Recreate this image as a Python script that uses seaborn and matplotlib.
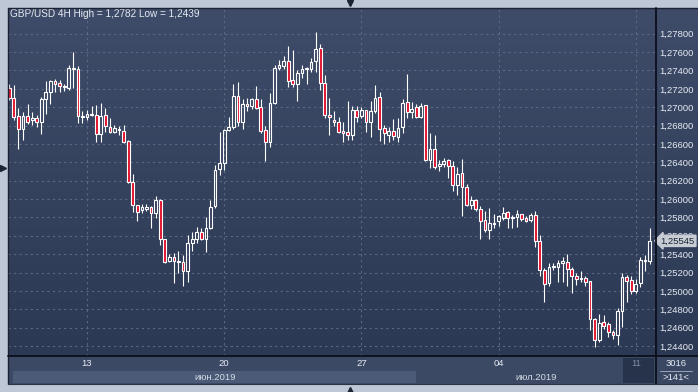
import numpy as np
import matplotlib
matplotlib.use("Agg")
import matplotlib.pyplot as plt
import seaborn as sns
from matplotlib.patches import Rectangle
from matplotlib.lines import Line2D
from matplotlib.colors import LinearSegmentedColormap

# ---------------- data (GBP/USD 4H candles) ----------------
opens = [1.2721, 1.2710, 1.2690, 1.2676, 1.2690, 1.2686, 1.2688, 1.2684, 1.2709, 1.2716,
         1.2728, 1.2726, 1.2723, 1.2721, 1.2743, 1.2742, 1.2689, 1.2689, 1.2693, 1.2692,
         1.2671, 1.2691, 1.2678, 1.2673, 1.2676, 1.2674, 1.2663, 1.2619, 1.2594, 1.2588,
         1.2589, 1.2591, 1.2585, 1.2599, 1.2556, 1.2532, 1.2537, 1.2531, 1.2531, 1.2522,
         1.2552, 1.2557, 1.2564, 1.2557, 1.2569, 1.2592, 1.2633, 1.2639, 1.2675, 1.2678,
         1.2712, 1.2684, 1.2703, 1.2701, 1.2709, 1.2700, 1.2675, 1.2662, 1.2705, 1.2743,
         1.2745, 1.2750, 1.2730, 1.2725, 1.2737, 1.2742, 1.2742, 1.2750, 1.2764, 1.2726,
         1.2692, 1.2686, 1.2684, 1.2674, 1.2673, 1.2670, 1.2697, 1.2690, 1.2697, 1.2684,
         1.2696, 1.2711, 1.2677, 1.2670, 1.2674, 1.2668, 1.2678, 1.2706, 1.2695, 1.2700,
         1.2689, 1.2702, 1.2643, 1.2655, 1.2636, 1.2638, 1.2642, 1.2636, 1.2615, 1.2628,
         1.2613, 1.2593, 1.2599, 1.2589, 1.2577, 1.2566, 1.2573, 1.2576, 1.2579, 1.2586,
         1.2579, 1.2580, 1.2584, 1.2579, 1.2577, 1.2583, 1.2554, 1.2523, 1.2509, 1.2526,
         1.2526, 1.2530, 1.2531, 1.2524, 1.2516, 1.2513, 1.2514, 1.2511, 1.2469, 1.2447,
         1.2466, 1.2464, 1.2455, 1.2452, 1.2478, 1.2515, 1.2512, 1.2500, 1.2509, 1.2533,
         1.2533]
highs = [1.2725, 1.2724, 1.2699, 1.2695, 1.2704, 1.2695, 1.2691, 1.2711, 1.2728, 1.2730,
         1.2731, 1.2730, 1.2725, 1.2746, 1.2760, 1.2745, 1.2696, 1.2697, 1.2701, 1.2702,
         1.2705, 1.2699, 1.2688, 1.2681, 1.2679, 1.2681, 1.2664, 1.2627, 1.2594, 1.2595,
         1.2595, 1.2592, 1.2603, 1.2600, 1.2557, 1.2540, 1.2541, 1.2543, 1.2539, 1.2561,
         1.2564, 1.2570, 1.2568, 1.2580, 1.2599, 1.2637, 1.2673, 1.2676, 1.2689, 1.2725,
         1.2727, 1.2709, 1.2710, 1.2710, 1.2723, 1.2709, 1.2680, 1.2715, 1.2746, 1.2751,
         1.2756, 1.2767, 1.2762, 1.2740, 1.2746, 1.2744, 1.2754, 1.2782, 1.2769, 1.2735,
         1.2710, 1.2696, 1.2689, 1.2684, 1.2707, 1.2701, 1.2701, 1.2700, 1.2697, 1.2707,
         1.2724, 1.2717, 1.2681, 1.2678, 1.2687, 1.2688, 1.2709, 1.2736, 1.2706, 1.2703,
         1.2705, 1.2702, 1.2672, 1.2670, 1.2643, 1.2645, 1.2644, 1.2641, 1.2635, 1.2644,
         1.2616, 1.2603, 1.2600, 1.2592, 1.2587, 1.2590, 1.2584, 1.2583, 1.2591, 1.2587,
         1.2583, 1.2588, 1.2584, 1.2581, 1.2585, 1.2587, 1.2561, 1.2525, 1.2530, 1.2530,
         1.2534, 1.2537, 1.2540, 1.2526, 1.2520, 1.2522, 1.2516, 1.2511, 1.2471, 1.2475,
         1.2474, 1.2466, 1.2457, 1.2481, 1.2519, 1.2517, 1.2516, 1.2513, 1.2537, 1.2539,
         1.2569]
lows = [1.2708, 1.2686, 1.2654, 1.2664, 1.2682, 1.2681, 1.2678, 1.2671, 1.2693, 1.2704,
        1.2716, 1.2717, 1.2718, 1.2719, 1.2721, 1.2683, 1.2683, 1.2686, 1.2690, 1.2662,
        1.2662, 1.2673, 1.2672, 1.2672, 1.2670, 1.2661, 1.2617, 1.2586, 1.2576, 1.2585,
        1.2587, 1.2569, 1.2579, 1.2550, 1.2530, 1.2531, 1.2509, 1.2520, 1.2505, 1.2510,
        1.2543, 1.2552, 1.2555, 1.2542, 1.2567, 1.2590, 1.2626, 1.2632, 1.2674, 1.2676,
        1.2679, 1.2676, 1.2696, 1.2698, 1.2698, 1.2672, 1.2641, 1.2657, 1.2704, 1.2740,
        1.2742, 1.2722, 1.2722, 1.2707, 1.2732, 1.2725, 1.2738, 1.2738, 1.2719, 1.2688,
        1.2670, 1.2679, 1.2672, 1.2662, 1.2664, 1.2664, 1.2684, 1.2688, 1.2673, 1.2668,
        1.2694, 1.2663, 1.2660, 1.2662, 1.2664, 1.2662, 1.2672, 1.2688, 1.2688, 1.2688,
        1.2688, 1.2641, 1.2634, 1.2633, 1.2630, 1.2635, 1.2623, 1.2609, 1.2604, 1.2582,
        1.2592, 1.2589, 1.2587, 1.2556, 1.2564, 1.2557, 1.2569, 1.2571, 1.2577, 1.2569,
        1.2569, 1.2570, 1.2576, 1.2575, 1.2575, 1.2548, 1.2516, 1.2488, 1.2505, 1.2523,
        1.2510, 1.2510, 1.2505, 1.2498, 1.2506, 1.2510, 1.2505, 1.2457, 1.2439, 1.2444,
        1.2458, 1.2450, 1.2448, 1.2441, 1.2461, 1.2488, 1.2497, 1.2498, 1.2504, 1.2522,
        1.2529]
closes = [1.2710, 1.2689, 1.2676, 1.2690, 1.2684, 1.2688, 1.2684, 1.2709, 1.2716, 1.2729,
          1.2725, 1.2723, 1.2722, 1.2743, 1.2742, 1.2690, 1.2690, 1.2693, 1.2691, 1.2671,
          1.2690, 1.2679, 1.2673, 1.2677, 1.2675, 1.2662, 1.2619, 1.2594, 1.2586, 1.2591,
          1.2591, 1.2585, 1.2599, 1.2556, 1.2531, 1.2537, 1.2532, 1.2532, 1.2522, 1.2552,
          1.2557, 1.2564, 1.2557, 1.2569, 1.2591, 1.2632, 1.2639, 1.2675, 1.2678, 1.2712,
          1.2684, 1.2703, 1.2701, 1.2709, 1.2699, 1.2674, 1.2662, 1.2705, 1.2743, 1.2746,
          1.2750, 1.2728, 1.2725, 1.2737, 1.2742, 1.2743, 1.2749, 1.2763, 1.2726, 1.2692,
          1.2689, 1.2684, 1.2673, 1.2672, 1.2670, 1.2697, 1.2689, 1.2697, 1.2684, 1.2696,
          1.2710, 1.2676, 1.2672, 1.2674, 1.2669, 1.2677, 1.2705, 1.2695, 1.2698, 1.2689,
          1.2701, 1.2643, 1.2654, 1.2635, 1.2638, 1.2641, 1.2636, 1.2615, 1.2627, 1.2613,
          1.2593, 1.2599, 1.2589, 1.2576, 1.2566, 1.2574, 1.2574, 1.2581, 1.2585, 1.2579,
          1.2580, 1.2584, 1.2578, 1.2576, 1.2583, 1.2554, 1.2523, 1.2508, 1.2526, 1.2527,
          1.2530, 1.2532, 1.2524, 1.2516, 1.2513, 1.2514, 1.2510, 1.2469, 1.2447, 1.2465,
          1.2462, 1.2455, 1.2452, 1.2478, 1.2515, 1.2511, 1.2500, 1.2508, 1.2534, 1.2534,
          1.25545]

week_tick_pos = [17, 47, 77, 107, 137]
week_labels = ["13", "20", "27", "04", "11"]
month_labels = ["июн.2019", "июл.2019"]
price_ticks = [1.244, 1.246, 1.248, 1.250, 1.252, 1.254, 1.256, 1.258, 1.260,
               1.262, 1.264, 1.266, 1.268, 1.270, 1.272, 1.274, 1.276, 1.278]
title = "GBP/USD 4H High = 1,2782 Low = 1,2439"
bar_count_text = "3016"
visible_text = ">141<"
last_price = closes[-1]

# ---------------- style ----------------
sns.set_style("dark")
plt.rcParams['font.family'] = ['Liberation Sans', 'DejaVu Sans']
FS = 6.8
TXT = '#e6ebf2'

W, H = 698, 392
fig = plt.figure(figsize=(W / 100, H / 100), dpi=100, facecolor='#bec7d5')


def fx(px):
    return px / W


def fy(py):
    return 1 - py / H


def frect(x0, y0, x1, y1, color, z=1):
    fig.patches.append(Rectangle((fx(x0), fy(y1)), (x1 - x0) / W, (y1 - y0) / H,
                                 transform=fig.transFigure, facecolor=color,
                                 edgecolor='none', zorder=z))


def fline(xs, ys, color, lw=1.0, z=5):
    fig.add_artist(Line2D([fx(x) for x in xs], [fy(y) for y in ys], color=color,
                          lw=lw, transform=fig.transFigure, zorder=z))


# gradient background (plot + price scale)
bg = fig.add_axes([fx(8), fy(356), (W - 8) / W, 348 / H])
bg.set_zorder(0)
cmap = LinearSegmentedColormap.from_list('g', ['#3f4c69', '#2c3954'])
bg.imshow(np.linspace(0, 1, 256).reshape(-1, 1), cmap=cmap, aspect='auto',
          extent=[0, 1, 0, 1])
bg.axis('off')

# bottom time-scale strip
frect(8, 356, W, 384, '#3c4965')
frect(13, 371, 416, 383, '#4b5a77')
frect(623, 358, 654, 383, '#27334a')
frect(656, 356, W, 384, '#3a4763')

ax = fig.add_axes([fx(8), fy(356), 647 / W, 348 / H])
ax.set_zorder(2)
ax.set_facecolor('none')

n = len(opens)
idx = np.arange(n)
o = np.array(opens)
h = np.array(highs)
l = np.array(lows)
c = np.array(closes)
top = np.maximum(o, c)
bot = np.minimum(o, c)
down = c < o

# wicks (split so hollow bodies stay empty)
ax.vlines(idx, top, h, color='white', lw=0.8, zorder=2)
ax.vlines(idx, l, bot, color='white', lw=0.8, zorder=2)
height = np.maximum(top - bot, 0.00002)
face = np.where(down, '#e1102d', 'none')
ax.bar(idx, height, bottom=bot, width=0.6, color=list(face), edgecolor='white',
       linewidth=0.8, zorder=3)

ax.set_xlim(-0.28, 141.2)
ax.set_ylim(1.24291, 1.28080)

ax.set_yticks(price_ticks)
ax.set_yticklabels([f"{v:.5f}".replace('.', ',') for v in price_ticks])
ax.yaxis.tick_right()
ax.tick_params(axis='y', length=0, pad=3.0, labelsize=FS, labelcolor=TXT)
ax.set_xticks(week_tick_pos)
ax.set_xticklabels(week_labels)
ax.tick_params(axis='x', length=0, pad=2.5, labelsize=FS, labelcolor=TXT)
ax.get_xticklabels()[-1].set_color('#8690a4')

ax.grid(True, color='#5b6985', linestyle=(0, (2, 3)), linewidth=0.8)
for s in ax.spines.values():
    s.set_visible(False)

ax.text(0.003, 0.983, title, transform=ax.transAxes, ha='left', va='center',
        fontsize=FS + 0.4, color=TXT)

ax.annotate(f"{last_price:.5f}".replace('.', ','), xy=(1.0, last_price),
            xycoords=('axes fraction', 'data'), xytext=(4.0, 0),
            textcoords='offset points', ha='left', va='center', fontsize=FS,
            color='#1b2435', annotation_clip=False, zorder=6,
            bbox=dict(boxstyle='larrow,pad=0.12', fc='#c8cdd5', ec='#c8cdd5'))

# frame lines
fline([8, 8], [8, 384], '#1a2233', 1.0)
fline([8, W], [8, 8], '#1a2233', 1.0)
fline([655.5, 655.5], [8, 384], '#0a0f1a', 1.3)
fline([8, W], [356, 356], '#0a0f1a', 1.3)
fline([8, W], [383.5, 383.5], '#2a3448', 0.8)
fline([660, 692], [370.5, 370.5], '#9aa6b8', 0.7)

fig.text(fx(215), fy(377), month_labels[0], ha='center', va='center',
         fontsize=FS, color='#d5dce7', zorder=6)
fig.text(fx(536), fy(377), month_labels[1], ha='center', va='center',
         fontsize=FS, color='#d5dce7', zorder=6)
fig.text(fx(676), fy(363.5), bar_count_text, ha='center', va='center',
         fontsize=FS, color=TXT, zorder=6)
fig.text(fx(676), fy(377.5), visible_text, ha='center', va='center',
         fontsize=FS, color=TXT, zorder=6)

# scroll markers
for (mx, my, mk) in [(350, 2.5, 'v'), (350, 389.5, '^'), (3, 168, '>')]:
    fig.add_artist(Line2D([fx(mx)], [fy(my)], marker=mk, markersize=4.5,
                          color='#1c2434', transform=fig.transFigure, zorder=7))

fig.savefig('out.png', dpi=100, facecolor=fig.get_facecolor())
